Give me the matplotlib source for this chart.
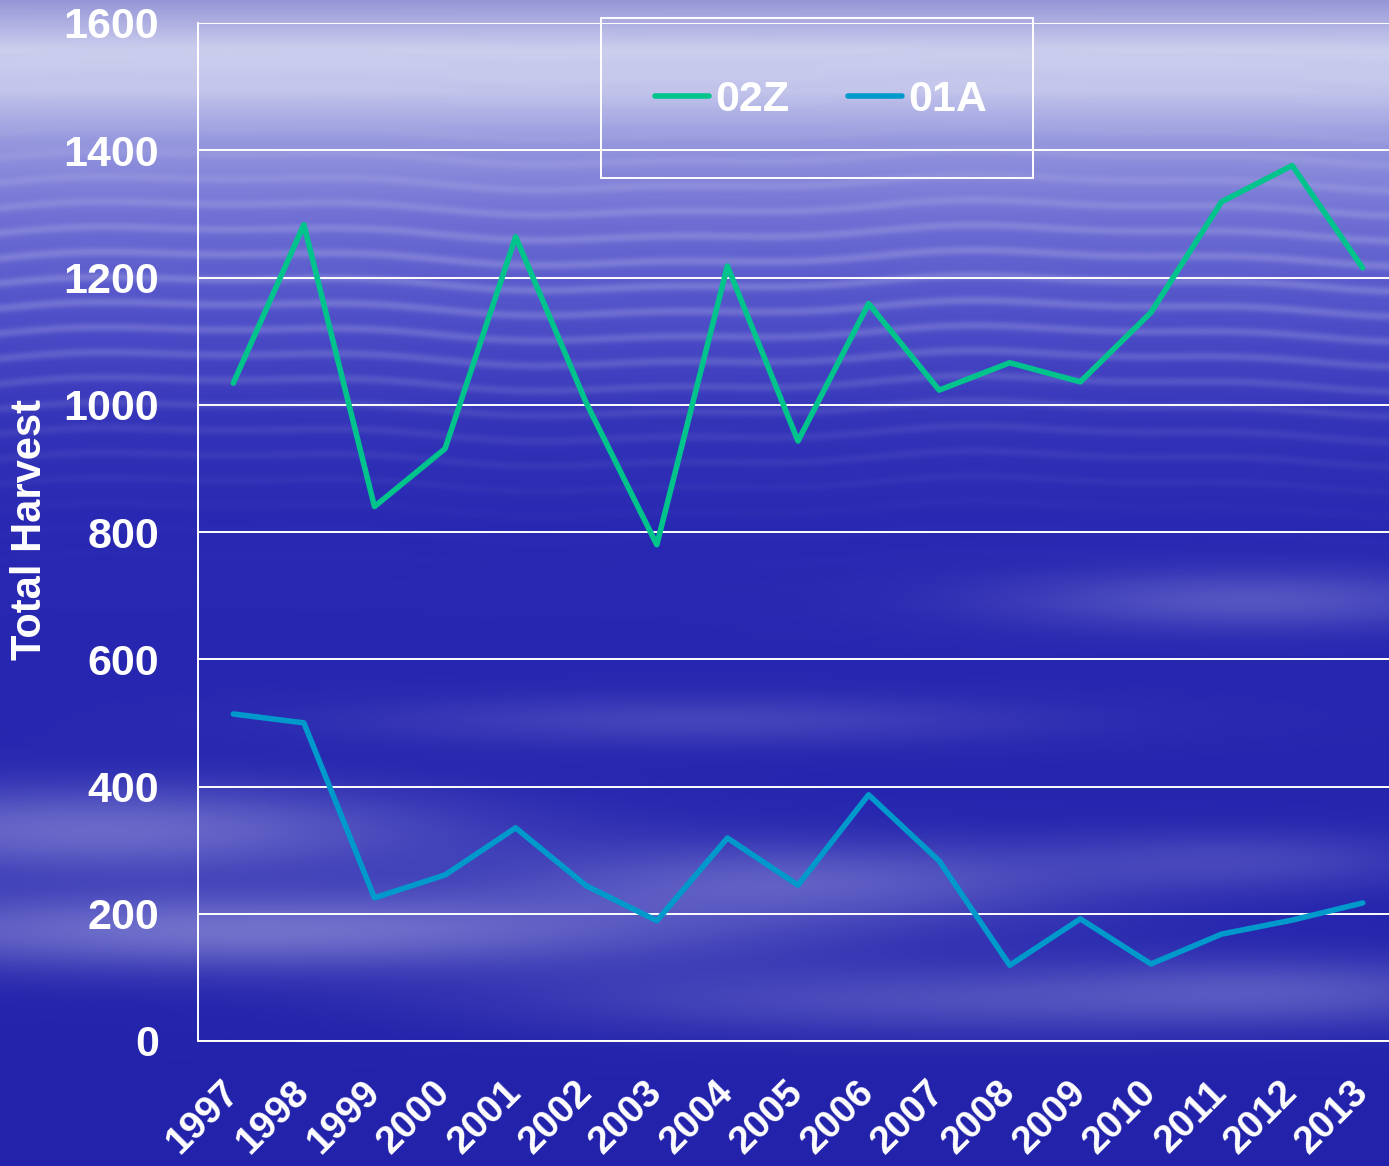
import matplotlib
matplotlib.use('Agg')
import matplotlib.pyplot as plt
from matplotlib.patches import Rectangle
import numpy as np

# Data
years = list(range(1997, 2014))
harvest_02z = [1034, 1283, 840, 931, 1264, 1003, 780, 1218, 943, 1159,
               1023, 1066, 1036, 1145, 1319, 1376, 1215]
harvest_01a = [514, 500, 225, 261, 335, 244, 189, 319, 245, 387,
               283, 119, 192, 121, 168, 190, 217]
y_ticks = [0, 200, 400, 600, 800, 1000, 1200, 1400, 1600]

plt.rcParams['font.family'] = ['Liberation Sans', 'DejaVu Sans']
plt.rcParams['font.weight'] = 'bold'

W, H = 1389, 1166
fig = plt.figure(figsize=(W / 100, H / 100), dpi=100)

# --- cloudy blue background (deterministic texture) ---
yy, xx = np.mgrid[0:H, 0:W].astype(float)
rows = np.arange(H, dtype=float)
ctrl_y = [0, 50, 90, 140, 220, 320, 420, 520, 700, 1166]
ctrl_r = [150, 205, 195, 150, 110, 78, 52, 40, 38, 34]
ctrl_g = [150, 207, 197, 152, 110, 78, 52, 40, 38, 34]
ctrl_b = [215, 238, 235, 222, 212, 200, 185, 178, 176, 170]
base = np.stack([np.interp(rows, ctrl_y, c) for c in (ctrl_r, ctrl_g, ctrl_b)], axis=1)
img = np.repeat(base[:, None, :], W, axis=1)

# thin horizontal streaks near the top
streak = (0.5 + 0.5 * np.sin(yy / 4.0 + 1.5 * np.sin(xx / 130.0) + 0.6 * np.sin(xx / 47.0))) ** 3
streak *= np.exp(-((yy - 260) / 160.0) ** 2)
# soft clouds low in the picture
cloud = np.zeros_like(xx)
for cy, cx, sy, sx, a in [(830, 100, 45, 350, 0.9), (930, 250, 40, 500, 1.0),
                          (880, 800, 40, 300, 0.7), (1000, 900, 35, 400, 0.5),
                          (600, 1250, 30, 250, 0.6), (720, 700, 25, 350, 0.4),
                          (990, 1300, 35, 250, 0.5), (860, 1250, 30, 200, 0.4)]:
    cloud += a * np.exp(-((yy - cy) / sy) ** 2 - ((xx - cx) / sx) ** 2)
cloud = np.clip(cloud, 0, 1)
light = np.array([175, 175, 228], dtype=float)
img = img + (streak * 0.35)[..., None] * (light - img) + (cloud * 0.55)[..., None] * (light - img)
img = np.clip(img, 0, 255) / 255.0

bg = fig.add_axes([0, 0, 1, 1])
bg.imshow(img, aspect='auto', extent=[0, 1, 0, 1])
bg.axis('off')

# --- main axes ---
ax = fig.add_axes([198 / W, 1 - 1041 / H, 1200 / W, 1018 / H])
ax.set_facecolor('none')
ax.plot(years, harvest_02z, color='#00C48C', lw=4.0, label='02Z', solid_capstyle='round')
ax.plot(years, harvest_01a, color='#0099CC', lw=4.0, label='01A', solid_capstyle='round')

ax.set_xlim(1996.5, 2013.5)
ax.set_ylim(0, 1600)
ax.set_yticks(y_ticks)
ax.set_xticks(years)
ax.set_xticklabels([str(y) for y in years], rotation=45, ha='right',
                   va='center', rotation_mode='anchor', fontsize=28)
ax.grid(axis='y', color='white', lw=1.4)
ax.tick_params(length=0, colors='white', labelsize=31)
ax.tick_params(axis='y', pad=28)
ax.tick_params(axis='x', pad=33, labelsize=28)
for s in ['top', 'right']:
    ax.spines[s].set_visible(False)
for s in ['left', 'bottom']:
    ax.spines[s].set_color('white')
    ax.spines[s].set_linewidth(1.4)

fig.text(30 / W, 1 - 530 / H, 'Total Harvest', rotation=90, color='white',
         fontsize=30, fontweight='bold', ha='center', va='center')

# legend box
fig.patches.append(Rectangle((601 / W, 1 - 178 / H), 432 / W, 160 / H,
                             transform=fig.transFigure, fill=False,
                             edgecolor='white', lw=1.4))
leg = fig.legend(loc='center', bbox_to_anchor=(821 / W, 1 - 100 / H), ncol=2,
                 frameon=False, fontsize=31, handlelength=1.25,
                 handletextpad=0.15, columnspacing=1.35)
for t in leg.get_texts():
    t.set_color('white')

fig.savefig('out.png', dpi=100)
